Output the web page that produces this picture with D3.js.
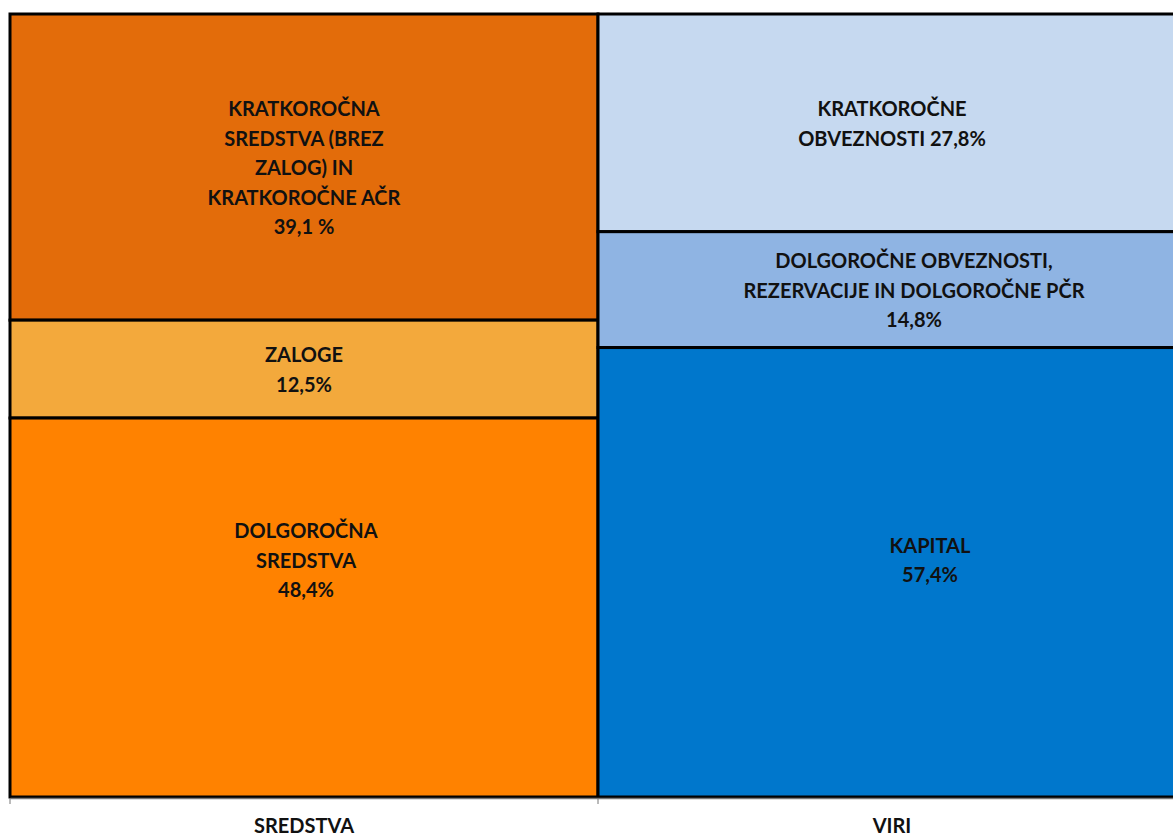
<!DOCTYPE html>
<html>
<head>
<meta charset="utf-8">
<script src="https://cdn.jsdelivr.net/npm/d3@7"></script>
<style>
  body { margin: 0; background: #fff; }
  svg text { font-family: Lato, "Open Sans", sans-serif; font-weight: bold; fill: #111; }
</style>
</head>
<body>
<svg id="chart" width="1173" height="837"></svg>
<script>
// columns of the chart
const categories = ["SREDSTVA", "VIRI"];

// segments, top to bottom, share in %
const sredstvaNames = ["KRATKOROČNA SREDSTVA", "ZALOGE", "DOLGOROČNA SREDSTVA"];
const sredstvaValues = [39.1, 12.5, 48.4];
const sredstvaLabels = [
    ["KRATKOROČNA", "SREDSTVA (BREZ", "ZALOG) IN", "KRATKOROČNE AČR", "39,1 %"],
    ["ZALOGE", "12,5%"],
    ["DOLGOROČNA", "SREDSTVA", "48,4%"]
];

const viriNames = ["KRATKOROČNE OBVEZNOSTI", "DOLGOROČNE OBVEZNOSTI", "KAPITAL"];
const viriValues = [27.8, 14.8, 57.4];
const viriLabels = [
    ["KRATKOROČNE", "OBVEZNOSTI 27,8%"],
    ["DOLGOROČNE OBVEZNOSTI,", "REZERVACIJE IN DOLGOROČNE PČR", "14,8%"],
    ["KAPITAL", "57,4%"]
];

const sredstvaColors = ["#e36c0a", "#f3a93c", "#ff8200"];
const viriColors = ["#c6d9f0", "#8fb4e3", "#0077cc"];
// some labels were dragged off the middle of their block
const labelShift = {
    "DOLGOROČNA SREDSTVA": [2, -48],
    "DOLGOROČNE OBVEZNOSTI": [22, 0],
    "KAPITAL": [38, -13]
};

let svg = d3.select("#chart");
let plotTop = 14, plotBottom = 797, plotLeft = 10, colW = 588;

let x = d3.scaleBand()
    .domain(categories)
    .range([plotLeft, plotLeft + colW * categories.length])
    .padding(0);

let y = d3.scaleLinear()
    .domain([100, 0])
    .range([plotTop, plotBottom]);

function stackCol(names, values, labels, colors) {
    let acc = 100;
    return names.map(function (n, i) {
        let d = {name: n, hi: acc, lo: acc - values[i], lines: labels[i], color: colors[i]};
        acc -= values[i];
        return d;
    });
}

let columns = [
    {cat: "SREDSTVA", segs: stackCol(sredstvaNames, sredstvaValues, sredstvaLabels, sredstvaColors)},
    {cat: "VIRI", segs: stackCol(viriNames, viriValues, viriLabels, viriColors)}
];

let g = svg.append("g");

columns.forEach(function (col) {
    let cg = g.append("g");
    cg.selectAll("rect")
        .data(col.segs)
        .enter().append("rect")
        .attr("x", x(col.cat))
        .attr("width", x.bandwidth())
        .attr("y", d => y(d.hi))
        .attr("height", d => y(d.lo) - y(d.hi))
        .attr("fill", d => d.color)
        .attr("stroke", "#000")
        .attr("stroke-width", 3);

    let lh = 29.5;
    cg.selectAll("text.lbl")
        .data(col.segs)
        .enter().append("text")
        .attr("class", "lbl")
        .attr("text-anchor", "middle")
        .attr("font-size", 20)
        .each(function (d) {
            let sh = labelShift[d.name] || [0, 0];
            let cx = x(col.cat) + x.bandwidth() / 2 + sh[0];
            let cy = (y(d.hi) + y(d.lo)) / 2 + sh[1];
            let n = d.lines.length;
            let t = d3.select(this);
            d.lines.forEach(function (line, k) {
                t.append("tspan")
                    .attr("x", cx)
                    .attr("y", cy + (k - (n - 1) / 2) * lh + 8)
                    .text(line);
            });
        });
});

// category axis along the bottom
let axis = d3.axisBottom(x).tickSize(6).tickSizeOuter(0).tickFormat("");
let ag = svg.append("g")
    .attr("transform", "translate(0," + (plotBottom + 1) + ")")
    .call(axis);
ag.select(".domain").attr("stroke", "#777").attr("stroke-width", 1.5);
ag.selectAll(".tick").remove();
// ticks at the band edges
ag.selectAll("line.edge")
    .data(categories.map(c => x(c)))
    .enter().append("line")
    .attr("class", "edge")
    .attr("x1", d => d).attr("x2", d => d)
    .attr("y1", 0).attr("y2", 6)
    .attr("stroke", "#777");

svg.selectAll("text.cat")
    .data(categories)
    .enter().append("text")
    .attr("class", "cat")
    .attr("text-anchor", "middle")
    .attr("font-size", 20)
    .attr("x", d => x(d) + x.bandwidth() / 2)
    .attr("y", 833)
    .text(d => d);
</script>
</body>
</html>
